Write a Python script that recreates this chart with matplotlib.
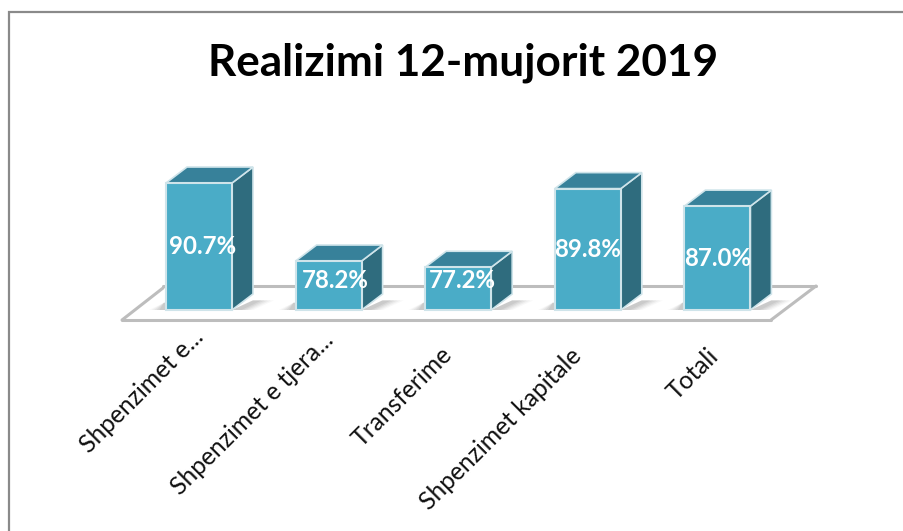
import matplotlib
matplotlib.use("Agg")
import matplotlib.pyplot as plt
from matplotlib.patches import Polygon, Rectangle
from matplotlib.transforms import ScaledTranslation

categories = ["Shpenzimet e...", "Shpenzimet e tjera...", "Transferime", "Shpenzimet kapitale", "Totali"]
values = [90.7, 78.2, 77.2, 89.8, 87.0]
value_labels = ["90.7%", "78.2%", "77.2%", "89.8%", "87.0%"]
title = "Realizimi 12-mujorit 2019"
label_shift_px = [4, 7, 4, 0, 0]
tick_shift_x_px = [-7, -7, -18, -18, -11]
tick_shift_y_px = [14, 11, -3, -4, -5]

W, H = 904, 531
plt.rcParams['font.family'] = ['Lato', 'DejaVu Sans']
fig = plt.figure(figsize=(W/100, H/100), dpi=100)
fig.patch.set_facecolor('white')

# frame
fig.add_artist(Rectangle((9/W, -5/H), 905/W, (H-12+5)/H, transform=fig.transFigure,
                         fill=False, ec='#8a8a8a', lw=1.6))

# axes: bottom at floor front edge
PXX = 129.6; PXY = 6.24
x0_px = 199; base_px = 310; base_val = 70.35
left_px, right_px, top_px, bot_px = 9, 903, 12, 320
ax = fig.add_axes([left_px/W, (H-bot_px)/H, (right_px-left_px)/W, (bot_px-top_px)/H])
ax.set_xlim((left_px-x0_px)/PXX, (right_px-x0_px)/PXX)
ax.set_ylim(base_val-(bot_px-base_px)/PXY, base_val+(base_px-top_px)/PXY)
ax.patch.set_alpha(0)
for s in ax.spines.values():
    s.set_visible(False)
ax.yaxis.set_visible(False)

bw = 66/PXX
dx = 21/PXX
dy = 16/PXY

def px(xp, yp):
    return ((xp-x0_px)/PXX, base_val+(base_px-yp)/PXY)

# floor
ax.add_patch(Polygon([px(122, 320), px(771, 320), px(816, 286), px(163, 286)], closed=True,
                     fc='white', ec='none', zorder=1, clip_on=False))
fl = dict(color='#bdbdbd', lw=2.2, zorder=1.5, clip_on=False, solid_capstyle='round')
ax.plot(*zip(px(122, 320), px(771, 320)), **fl)
ax.plot(*zip(px(122, 320), px(163, 288)), **fl)
ax.plot(*zip(px(163, 286), px(816, 286)), **fl)
ax.plot(*zip(px(771, 320), px(816, 286)), **fl)

for i, v in enumerate(values):
    l, r = i-bw/2, i+bw/2
    # soft shadow
    for k, a in zip([1.0, 0.85, 0.7, 0.55, 0.4], [0.05, 0.07, 0.09, 0.11, 0.13]):
        ax.add_patch(Polygon([(r, base_val), (r+dx, base_val+dy*0.6),
                              (r+dx*(1+1.0*k), base_val+dy*0.6),
                              (r+dx*(0.1+0.9*k), base_val)],
                             closed=True, fc='#777777', ec='none', alpha=a, zorder=2))
        ax.add_patch(Polygon([(l, base_val), (l-dx*0.8*k, base_val), (l-dx*0.1, base_val+dy*0.45),
                              (l, base_val+dy*0.45)],
                             closed=True, fc='#777777', ec='none', alpha=a, zorder=2))
    ec = '#cfe4ea'
    ax.add_patch(Polygon([(r, base_val), (r+dx, base_val+dy), (r+dx, v+dy), (r, v)], closed=True,
                         fc='#2f6c7e', ec=ec, lw=1.2, zorder=3))
    ax.add_patch(Polygon([(l, v), (r, v), (r+dx, v+dy), (l+dx, v+dy)], closed=True,
                         fc='#37819a', ec=ec, lw=1.2, zorder=3))
    ax.add_patch(Rectangle((l, base_val), bw, v-base_val, fc='#4aacc7', ec=ec, lw=1.5, zorder=4))
    ylab = max((v+base_val)/2, 75.0)
    ax.text(i+label_shift_px[i]/PXX, ylab, value_labels[i], ha='center', va='center',
            color='white', fontsize=17.3, fontweight='bold', zorder=5)

ax.set_xticks(range(len(categories)))
ax.set_xticklabels(categories, rotation=45, ha='right', rotation_mode='anchor', fontsize=17.7, color='#111111')
ax.tick_params(axis='x', length=0, pad=14)
for t, sx, sy in zip(ax.get_xticklabels(), tick_shift_x_px, tick_shift_y_px):
    t.set_transform(t.get_transform() + ScaledTranslation(sx/100, sy/100, fig.dpi_scale_trans))

fig.text(463/W, 1-63/H, title, ha='center', va='center', fontsize=31.8, fontweight='bold', color='black')

fig.savefig('out.png', dpi=100, facecolor='white')
